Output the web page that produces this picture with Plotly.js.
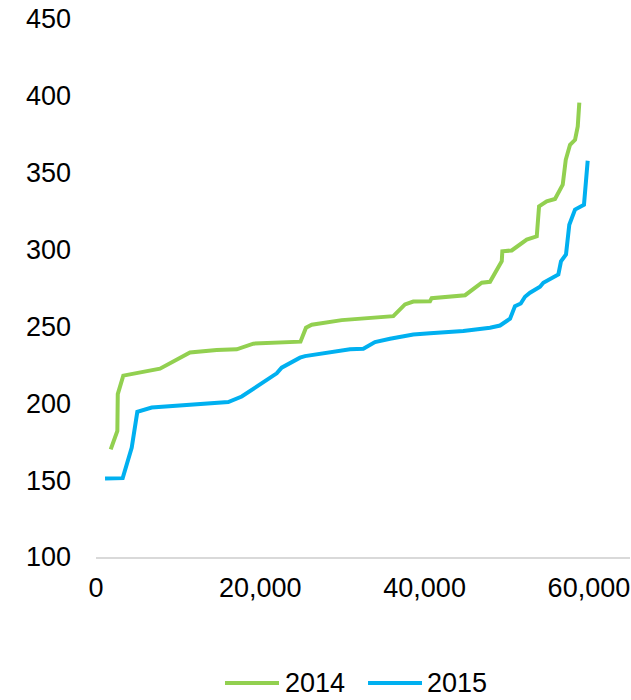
<!DOCTYPE html>
<html>
<head>
<meta charset="utf-8">
<script src="https://cdn.plot.ly/plotly-3.0.1.min.js"></script>
<style>
  html, body { margin: 0; padding: 0; background: #ffffff; }
  #chart { width: 631px; height: 700px; }
</style>
</head>
<body>
<div id="chart"></div>
<script>
// Cumulative volume (x) against price (y), one curve per year
const x2014 = [1790, 2600, 2650, 3320, 7790, 11440, 14690, 17130, 19150, 24890, 25560, 26260,
  29910, 34570, 36190, 37610, 38620, 40660, 40860, 44930, 46960, 47960, 49390, 49460,
  50600, 52430, 53650, 53930, 54860, 55870, 56810, 57180, 57700, 58310, 58640, 58830];
const y2014 = [170, 182, 206, 218, 222.5, 233, 234.6, 235.1, 238.8, 240.1, 249.2, 251.1,
  254.1, 255.6, 256.7, 264.3, 266.2, 266.4, 268.4, 270.3, 278.4, 279, 292.4, 298.9,
  299.4, 306.5, 308.6, 328.1, 331.4, 332.9, 342.2, 358.4, 368.2, 371.4, 380.1, 395.6];

const x2015 = [1100, 3250, 4350, 5030, 6780, 16100, 17740, 22000, 22600, 24830, 25440, 30920,
  32540, 33960, 35790, 38620, 40660, 44710, 47960, 49180, 50400, 51000, 51700, 52220,
  52830, 54050, 54450, 55870, 56280, 56600, 57210, 57610, 58310, 59400, 59850];
const y2015 = [151.1, 151.3, 171.2, 194.4, 197.2, 200.8, 204.4, 219.5, 223.2, 229.7, 230.7, 235.1,
  235.5, 239.8, 242, 244.8, 245.5, 247, 249.2, 250.6, 255, 263.2, 264.9, 269.3,
  271.9, 275.8, 278.4, 282.7, 283.8, 292.4, 296.8, 316.2, 326, 329.2, 357.8];

const seriesNames = ['2014', '2015'];
const seriesColors = ['#92D050', '#00B0F0'];

const FONT = 'Liberation Sans, Arial, sans-serif';
const FS = 27;

const traces = [
  { x: x2014, y: y2014, name: seriesNames[0], type: 'scatter', mode: 'lines',
    line: { color: seriesColors[0], width: 4 } },
  { x: x2015, y: y2015, name: seriesNames[1], type: 'scatter', mode: 'lines',
    line: { color: seriesColors[1], width: 4 } }
];

// Legend below the plot: a long key line followed by the series name
const legendY = -0.2342;
const legendKeys = [
  { x0: 0.2416, x1: 0.3427, tx: 0.3502 },
  { x0: 0.5094, x1: 0.6105, tx: 0.6161 }
];
const shapes = legendKeys.map((k, i) => ({
  type: 'line', xref: 'paper', yref: 'paper',
  x0: k.x0, x1: k.x1, y0: legendY, y1: legendY,
  line: { color: seriesColors[i], width: 4 }
}));
const annotations = legendKeys.map((k, i) => ({
  xref: 'paper', yref: 'paper', x: k.tx, y: legendY,
  xanchor: 'left', yanchor: 'middle', showarrow: false,
  text: seriesNames[i],
  font: { family: FONT, size: FS, color: '#000000' }
}));

const layout = {
  width: 631,
  height: 700,
  margin: { l: 96, r: 1, t: 19, b: 143, autoexpand: false },
  paper_bgcolor: '#ffffff',
  plot_bgcolor: '#ffffff',
  font: { family: FONT, size: FS, color: '#000000' },
  showlegend: false,
  shapes: shapes,
  annotations: annotations,
  xaxis: {
    range: [0, 65000],
    tickvals: [0, 20000, 40000, 60000],
    ticktext: ['0', '20,000', '40,000', '60,000'],
    showgrid: false,
    zeroline: false,
    showline: true,
    linecolor: '#d9d9d9',
    linewidth: 1.5,
    ticks: '',
    ticklabelstandoff: 6,
    tickfont: { family: FONT, size: FS, color: '#000000' }
  },
  yaxis: {
    range: [100, 450],
    tickvals: [100, 150, 200, 250, 300, 350, 400, 450],
    showgrid: false,
    zeroline: false,
    showline: false,
    ticks: '',
    ticklabelstandoff: 24,
    tickfont: { family: FONT, size: FS, color: '#000000' }
  }
};

Plotly.newPlot('chart', traces, layout, { displayModeBar: false, staticPlot: true });
</script>
</body>
</html>
